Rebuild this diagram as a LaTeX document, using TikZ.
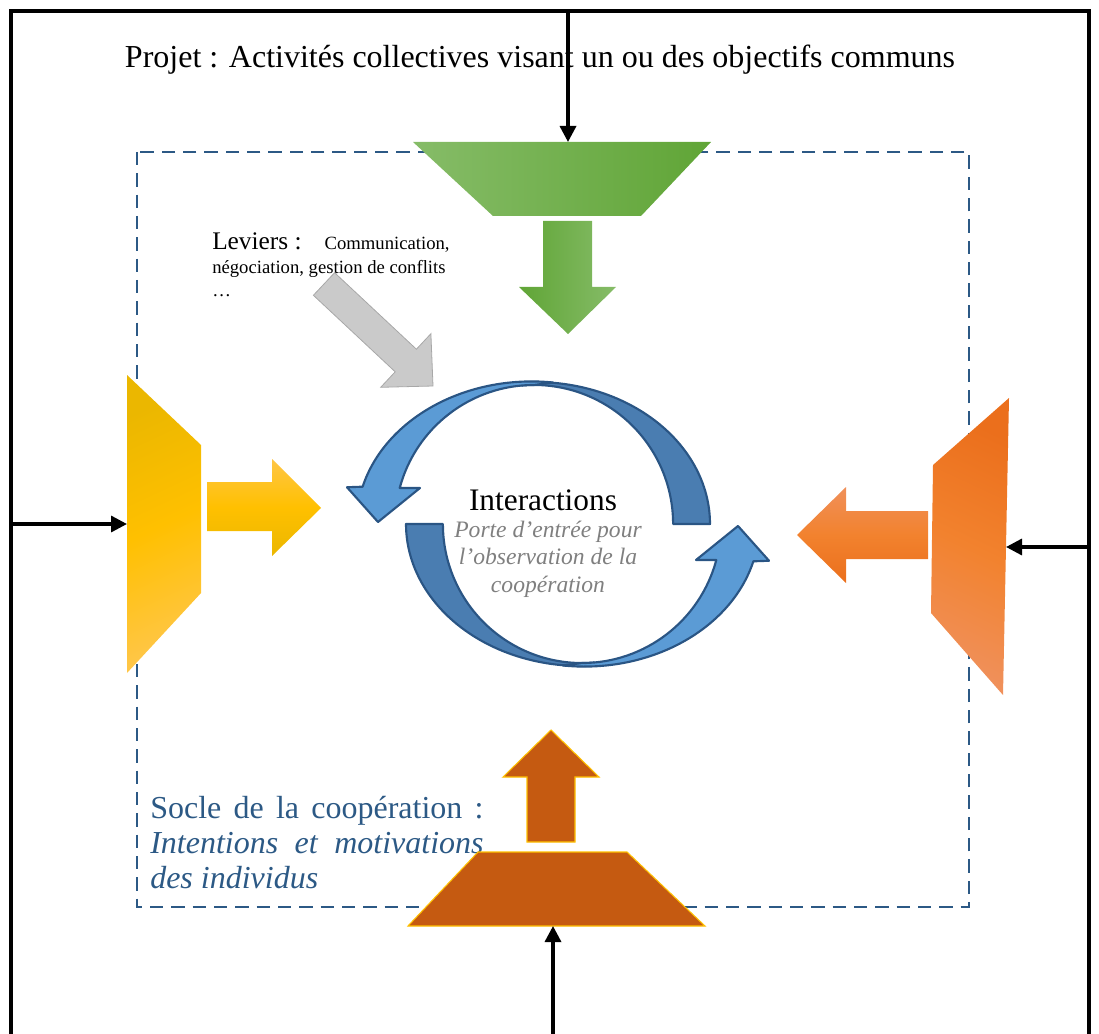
\documentclass[tikz,border=0pt]{standalone}
\usepackage{fontspec}
\setmainfont{Liberation Serif}
\usetikzlibrary{arrows.meta}
\definecolor{boxblue}{HTML}{2C5985}
\definecolor{greenL}{HTML}{86BC68}
\definecolor{greenD}{HTML}{60A536}
\definecolor{yelD}{HTML}{EBB700}
\definecolor{yelM}{HTML}{FFC000}
\definecolor{yelL}{HTML}{FFC646}
\definecolor{oraD}{HTML}{EB6F1C}
\definecolor{oraM}{HTML}{F2822E}
\definecolor{oraL}{HTML}{F0905A}
\definecolor{brownF}{HTML}{C55A11}
\definecolor{brownE}{HTML}{FFC000}
\definecolor{grayF}{HTML}{CACACA}
\definecolor{grayE}{HTML}{A8A8A8}
\definecolor{ringL}{HTML}{5B9BD5}
\definecolor{ringD}{HTML}{4A7DB1}
\definecolor{ringE}{HTML}{2A5584}
\definecolor{noteGray}{HTML}{7F7F7F}
\newcommand{\ringarrowpaths}{%
  \path[ringdark] (152,0) arc[start angle=0,end angle=95,x radius=175,y radius=142]
     -- (-36,138.5) arc[start angle=95,end angle=0,radius=139] -- cycle;
  \path[ringlight] (-5,141.5) arc[start angle=83,end angle=165,x radius=175,y radius=142]
     -- (-211,36.75) -- (-180,2) -- (-138,36) -- (-158.3,36)
     arc[start angle=165,end angle=90,radius=139] -- cycle;
}
\begin{document}
\begin{tikzpicture}[x=0.75pt,y=-0.75pt,
  frameline/.style={line width=3pt, line join=miter},
  conn/.style={line width=2.5pt, -{Triangle[length=12pt,width=12pt]}},
  dashbox/.style={draw=boxblue, line width=1.5pt, dash pattern=on 10pt off 6pt},
  ringdark/.style={fill=ringD, draw=ringE, line width=1.6pt, line join=round},
  ringlight/.style={fill=ringL, draw=ringE, line width=1.6pt, line join=round},
  brownshape/.style={fill=brownF, draw=brownE, line width=0.8pt},
  grayarrow/.style={fill=grayF, draw=grayE, line width=0.6pt},
  label/.style={inner sep=0pt}
]
\useasboundingbox (0,0) rectangle (1099,1034);

% dashed frame
\draw[dashbox] (137,152) rectangle (969,907);

% texts
\node[label, anchor=base, font=\fontsize{24}{28}\selectfont] (projet) at (540,68)
  {Projet : Activités collectives visant un ou des objectifs communs};
\node[label, anchor=base west, text width=178pt, align=justify,
      font=\fontsize{14}{17.6}\selectfont] (leviers) at (212,250)
  {{\fontsize{19}{17.6}\selectfont Leviers :}\hfill Communication,\\
   \mbox{négociation, gestion de conflits}\\ …};
\node[label, anchor=base west, text width=250pt, align=justify, text=boxblue,
      font=\fontsize{24}{26.5}\selectfont] (socle) at (150,818)
  {Socle de la coopération~:\linebreak\textit{Intentions et motivations\linebreak des individus}};
\node[label, anchor=base, font=\fontsize{23.5}{28}\selectfont] (inter) at (543,510) {Interactions};
\node[label, anchor=base, align=center, text=noteGray,
      font=\itshape\fontsize{17.7}{20.3}\selectfont] (porte) at (548,592)
  {Porte d’entrée pour\\l’observation de la\\coopération};

% green (top)
\shade[left color=greenL, right color=greenD] (413,142) -- (711,142) -- (641,216) -- (493,216) -- cycle;
\shade[left color=greenD, right color=greenL] (543,221) -- (592,221) -- (592,287) -- (616,287)
  -- (568,334) -- (519,287) -- (543,287) -- cycle;

% gray lever arrow
\path[grayarrow] (334.6,272.7) -- (416.4,349.2) -- (430.9,333.7) -- (433,386) -- (380.7,387.3)
  -- (395.2,371.8) -- (313.4,295.3) -- cycle;

% yellow (left)
\shade[top color=yelD, bottom color=yelL, middle color=yelM, shading angle=25]
  (127,375) -- (201,445) -- (201,593) -- (127,673) -- cycle;
\shade[top color=yelL, bottom color=yelD, middle color=yelM]
  (207,482) -- (272,482) -- (272,459) -- (321,508) -- (272,556) -- (272,531) -- (207,531) -- cycle;

% orange (right)
\shade[top color=oraD, bottom color=oraL, middle color=oraM, shading angle=-25]
  (933,465) -- (1009,398) -- (1003,695) -- (931,613) -- cycle;
\shade[top color=oraL, bottom color=oraD, middle color=oraM]
  (928,511) -- (846,511) -- (846,487) -- (797,535) -- (846,583) -- (846,559) -- (928,559) -- cycle;

% brown (bottom)
\path[brownshape] (478,852) -- (627,852) -- (705,926) -- (408,926) -- cycle;
\path[brownshape] (527,842) -- (527,777) -- (503,777) -- (551,730) -- (599,777) -- (575,777)
  -- (575,842) -- cycle;

% circular arrows
\begin{scope}[shift={(558,524)}, yscale=-1]
  \ringarrowpaths
\end{scope}
\begin{scope}[shift={(558,524)}, yscale=-1, rotate=180]
  \ringarrowpaths
\end{scope}

% outer frame
\coordinate (fTL) at (11,11);
\coordinate (fTR) at (1089,11);
\coordinate (fBL) at (11,1040);
\coordinate (fBR) at (1089,1040);
\draw[frameline] (fBL) -- (fTL) -- (fTR) -- (fBR);

% connectors
\coordinate (fTop) at (568,11);     \coordinate (gTop) at (568,142);
\coordinate (fLeft) at (11,524);    \coordinate (yLeft) at (127,524);
\coordinate (fRight) at (1089,547); \coordinate (oRight) at (1006,547);
\coordinate (fBottom) at (553,1034);\coordinate (bBottom) at (553,926);
\draw[conn] (fTop) -- (gTop);
\draw[conn] (fLeft) -- (yLeft);
\draw[conn] (fRight) -- (oRight);
\draw[conn] (fBottom) -- (bBottom);
\end{tikzpicture}
\end{document}
